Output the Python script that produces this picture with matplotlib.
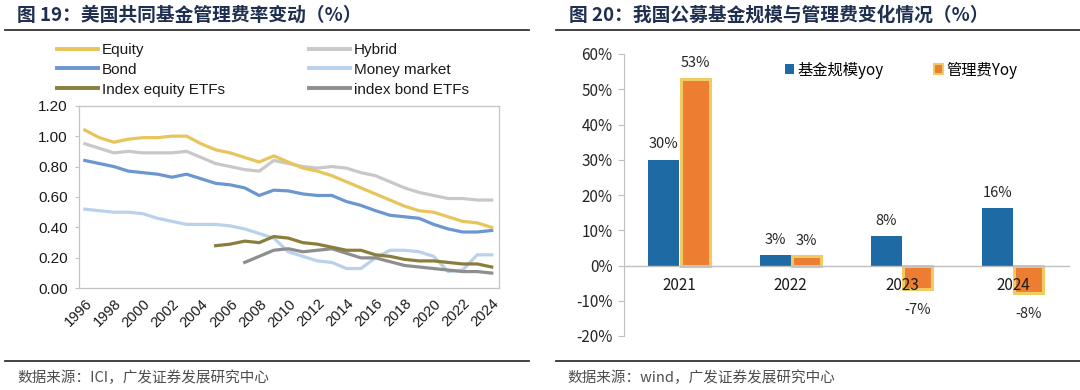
import numpy as np
import matplotlib
matplotlib.use("Agg")
import matplotlib.pyplot as plt
from matplotlib.lines import Line2D
from matplotlib.patches import Patch
from matplotlib.ticker import FuncFormatter

plt.rcParams['font.family'] = ['Noto Sans CJK SC', 'DejaVu Sans']

# ---- left chart data (ICI expense ratios, %) ----
years = np.arange(1996, 2025)
equity = [1.04, 0.99, 0.96, 0.98, 0.99, 0.99, 1.00, 1.00, 0.95, 0.91,
          0.89, 0.86, 0.83, 0.87, 0.83, 0.79, 0.77, 0.74, 0.70, 0.66,
          0.62, 0.58, 0.54, 0.51, 0.50, 0.47, 0.44, 0.43, 0.40]
hybrid = [0.95, 0.92, 0.89, 0.90, 0.89, 0.89, 0.89, 0.90, 0.86, 0.82,
          0.80, 0.78, 0.77, 0.84, 0.82, 0.80, 0.79, 0.80, 0.79, 0.76,
          0.74, 0.70, 0.66, 0.63, 0.61, 0.59, 0.59, 0.58, 0.58]
bond = [0.84, 0.82, 0.80, 0.77, 0.76, 0.75, 0.73, 0.75, 0.72, 0.69,
        0.68, 0.66, 0.61, 0.645, 0.64, 0.62, 0.61, 0.61, 0.57, 0.545,
        0.51, 0.48, 0.47, 0.46, 0.42, 0.39, 0.37, 0.37, 0.38]
money = [0.52, 0.51, 0.50, 0.50, 0.49, 0.46, 0.44, 0.42, 0.42, 0.42,
         0.41, 0.39, 0.36, 0.33, 0.24, 0.21, 0.18, 0.17, 0.13, 0.13,
         0.20, 0.25, 0.25, 0.24, 0.21, 0.11, 0.12, 0.22, 0.22]
ieq_years = np.arange(2005, 2025)
idx_equity = [0.28, 0.29, 0.31, 0.30, 0.34, 0.33, 0.30, 0.29, 0.27, 0.25,
              0.25, 0.22, 0.21, 0.19, 0.18, 0.18, 0.17, 0.16, 0.16, 0.14]
ibd_years = np.arange(2007, 2025)
idx_bond = [0.17, 0.21, 0.25, 0.26, 0.24, 0.25, 0.26, 0.23, 0.20, 0.20,
            0.175, 0.15, 0.14, 0.13, 0.12, 0.11, 0.11, 0.10]

# ---- right chart data (%) ----
cats = ['2021', '2022', '2023', '2024']
scale_yoy = [30.0, 3.0, 8.4, 16.2]
fee_yoy = [53.0, 2.6, -6.6, -7.7]

W, H = 1080, 390
fig = plt.figure(figsize=(W / 100, H / 100), dpi=100)

def fx(px):
    return px / W

def fy(py):
    return 1 - py / H

title_col = '#1E2F4F'
src_col = '#4D4D4D'

# titles, rules and source notes
fig.text(fx(17), fy(15), '图 19：美国共同基金管理费率变动（%）', fontsize=13.5,
         fontweight='bold', color=title_col, va='center', ha='left')
fig.text(fx(569), fy(15), '图 20：我国公募基金规模与管理费变化情况（%）', fontsize=13.5,
         fontweight='bold', color=title_col, va='center', ha='left')
for x0, x1 in [(5, 529), (556, 1080)]:
    fig.add_artist(Line2D([fx(x0), fx(x1)], [fy(29.5)] * 2, color='#333333', lw=1.3))
    fig.add_artist(Line2D([fx(x0), fx(x1)], [fy(361)] * 2, color='#333333', lw=1.3))
fig.text(fx(17), fy(378), '数据来源：ICI，广发证券发展研究中心', fontsize=10.5,
         color=src_col, va='center', ha='left')
fig.text(fx(567), fy(378), '数据来源：wind，广发证券发展研究中心', fontsize=10.5,
         color=src_col, va='center', ha='left')

# ---- left chart ----
ax = fig.add_axes([fx(79), fy(288.3), fx(420), 182.6 / H])
lw = 2.3
series = [
    (years, equity, '#E8C55A', 'Equity'),
    (years, bond, '#6B96D0', 'Bond'),
    (ieq_years, idx_equity, '#8A7E3C', 'Index equity ETFs'),
    (years, hybrid, '#C8C8C8', 'Hybrid'),
    (years, money, '#B9D1EB', 'Money market'),
    (ibd_years, idx_bond, '#8E8E8E', 'index bond ETFs'),
]
# draw order: light ones first
draw_order = [4, 3, 5, 2, 1, 0]
for i in draw_order:
    xs, ys, c, name = series[i]
    ax.plot(xs, ys, color=c, lw=lw, solid_joinstyle='round')
handles = [Line2D([], [], color=c, lw=2.8) for _, _, c, _ in series]
labels = [s[3] for s in series]

ax.set_xlim(1995.6, 2024.5)
ax.set_ylim(0, 1.2)
ax.set_yticks(np.arange(0, 1.21, 0.2))
ax.yaxis.set_major_formatter(FuncFormatter(lambda v, p: f'{v:.2f}'))
ax.set_xticks(np.arange(1996, 2025, 2))
for lab in ax.get_xticklabels():
    lab.set_rotation(45)
    lab.set_ha('right')
    lab.set_rotation_mode('anchor')
for sp in ax.spines.values():
    sp.set_color('#C4C4C4')
    sp.set_linewidth(0.9)
ax.tick_params(axis='y', length=3, color='#C4C4C4', labelsize=11, pad=5,
               labelcolor='#1A1A1A')
ax.tick_params(axis='x', length=0, labelsize=10.5, pad=6, labelcolor='#1A1A1A')
for lab in ax.get_xticklabels() + ax.get_yticklabels():
    lab.set_family(['Liberation Sans', 'DejaVu Sans'])

leg = fig.legend(handles, labels, ncol=2, loc='upper left',
                 bbox_to_anchor=(fx(57), fy(43)), frameon=False,
                 borderpad=0, borderaxespad=0, handlelength=2.7,
                 handletextpad=0.25, columnspacing=5.5, labelspacing=0.38,
                 prop={'family': ['Liberation Sans', 'DejaVu Sans'], 'size': 11})
for t in leg.get_texts():
    t.set_color('#1A1A1A')

# ---- right chart ----
bx = fig.add_axes([fx(623.8), fy(336), fx(445.2), 282 / H])
bx.set_axisbelow(False)
xpos = np.arange(len(cats))
bw = 0.28
blue = '#1D6AA5'
orange = '#ED7D31'
edge = '#EFCB62'
bx.bar(xpos - bw / 2, scale_yoy, bw, color=blue, zorder=1)
bx.bar(xpos + bw / 2, fee_yoy, bw * 0.93, color=orange, edgecolor=edge,
       linewidth=2.2, zorder=1)

for xi, v in zip(xpos - bw / 2, scale_yoy):
    bx.annotate(f'{v:.0f}%', (xi, v), xytext=(0, 6), textcoords='offset points',
                ha='center', va='bottom', fontsize=10.5, color='#262626')
for xi, v in zip(xpos + bw / 2, fee_yoy):
    if v >= 0:
        bx.annotate(f'{v:.0f}%', (xi, v), xytext=(0, 6), textcoords='offset points',
                    ha='center', va='bottom', fontsize=10.5, color='#262626')
    else:
        bx.annotate(f'{v:.0f}%', (xi, v), xytext=(0, -10), textcoords='offset points',
                    ha='center', va='top', fontsize=10.5, color='#262626')

bx.set_xlim(-0.5, 3.5)
bx.set_ylim(-20, 60)
bx.set_yticks(np.arange(-20, 61, 10))
bx.yaxis.set_major_formatter(FuncFormatter(lambda v, p: f'{v:.0f}%'))
bx.set_xticks(xpos, cats)
bx.spines['top'].set_visible(False)
bx.spines['right'].set_visible(False)
bx.spines['bottom'].set_position(('data', 0))
bx.spines['bottom'].set_color('#BFBFBF')
bx.spines['bottom'].set_linewidth(1.0)
bx.spines['left'].set_color('#BFBFBF')
bx.tick_params(axis='y', length=4, color='#BFBFBF', labelsize=11, pad=4,
               labelcolor='#262626')
bx.tick_params(axis='x', length=0, labelsize=11, pad=8, labelcolor='#1A1A1A')

lh = [Patch(facecolor=blue, edgecolor='none'),
      Patch(facecolor=orange, edgecolor=edge, linewidth=1.5)]
bx.legend(lh, ['基金规模yoy', '管理费Yoy'], ncol=2, loc='center left',
          bbox_to_anchor=(fx(785), fy(70)), bbox_transform=fig.transFigure,
          frameon=False, borderpad=0, borderaxespad=0, handlelength=0.6,
          handleheight=0.6, handletextpad=0.2, columnspacing=3.3,
          prop={'size': 11})

fig.savefig('out.png', dpi=100)
